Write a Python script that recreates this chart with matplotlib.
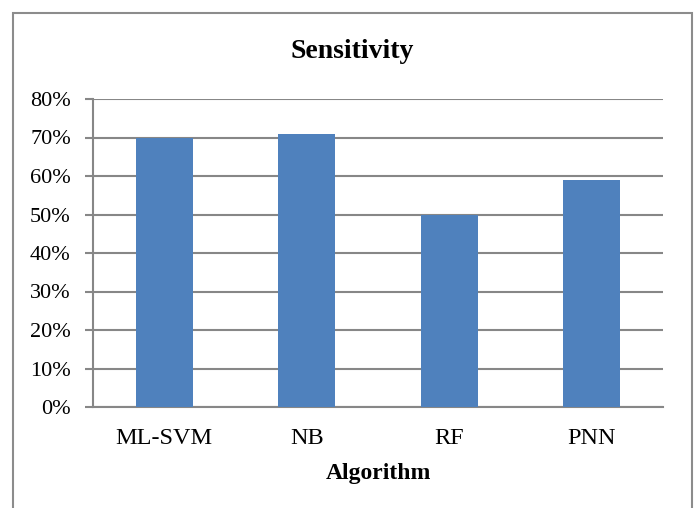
import matplotlib.pyplot as plt
import matplotlib.patches as patches
from matplotlib.ticker import PercentFormatter

# Sensitivity per algorithm (fraction)
algorithms = ["ML-SVM", "NB", "RF", "PNN"]
sensitivity = [0.70, 0.71, 0.50, 0.59]
yticks = [0.0, 0.1, 0.2, 0.3, 0.4, 0.5, 0.6, 0.7, 0.8]

BAR_COLOR = "#4F81BD"
GRID_COLOR = "#878787"

plt.rcParams["font.family"] = ["Liberation Serif", "DejaVu Serif"]

fig = plt.figure(figsize=(6.97, 5.08), dpi=100)
ax = fig.add_axes([93 / 697, 1 - 407 / 508, 570 / 697, 308 / 508])

# outer chart frame (bottom edge runs off the image)
frame = patches.Rectangle((12.5 / 697, -0.05), (692 - 12.5) / 697, 1.05 - 13 / 508,
                          transform=fig.transFigure, fill=False,
                          edgecolor="#8c8c8c", linewidth=1.5, clip_on=False)
fig.patches.append(frame)

x = range(len(algorithms))
ax.bar(x, sensitivity, width=0.4, color=BAR_COLOR, zorder=3)

ax.set_xlim(-0.5, len(algorithms) - 0.5)
ax.set_ylim(0, 0.8)
ax.set_yticks(yticks)
ax.yaxis.set_major_formatter(PercentFormatter(1.0, decimals=0))
ax.set_xticks(list(x))
ax.set_xticklabels(algorithms)

ax.grid(axis="y", color=GRID_COLOR, linewidth=1.5, zorder=0)
for side in ("top", "right"):
    ax.spines[side].set_visible(False)
for side in ("left", "bottom"):
    ax.spines[side].set_color(GRID_COLOR)
    ax.spines[side].set_linewidth(1.5)

ax.tick_params(axis="y", length=6, width=1.5, color=GRID_COLOR, labelsize=16, pad=10)
ax.tick_params(axis="x", length=0, labelsize=17.5, pad=15)

ax.set_xlabel("Algorithm", fontsize=17, fontweight="bold", labelpad=10)
fig.text(352 / 697, 1 - 51 / 508, "Sensitivity", ha="center", va="center",
         fontsize=20, fontweight="bold")

fig.savefig("out.png", dpi=100)
